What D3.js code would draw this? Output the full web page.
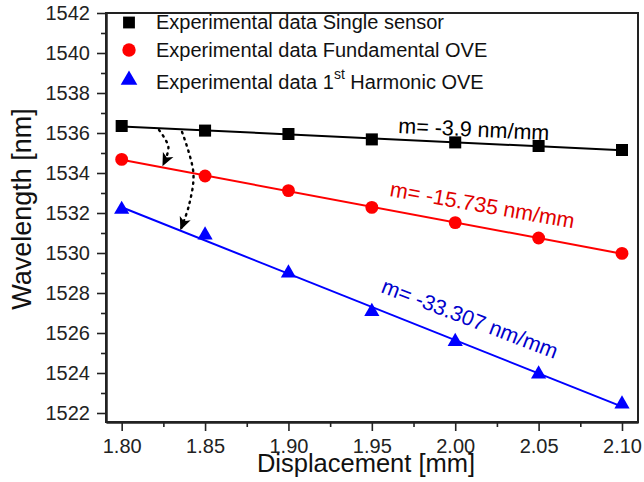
<!DOCTYPE html>
<html><head><meta charset="utf-8">
<script src="https://cdn.jsdelivr.net/npm/d3@7"></script>
<style>
html,body{margin:0;padding:0;background:#fff;}
svg text{font-family:"Liberation Sans",Arial,sans-serif;}
</style></head>
<body><svg id="c" width="644" height="482"></svg>
<script>
const displacement = [1.80, 1.85, 1.90, 1.95, 2.00, 2.05, 2.10];
const singleSensor = [1536.35, 1536.12, 1535.95, 1535.68, 1535.53, 1535.35, 1535.15];
const fundamentalOVE = [1534.68, 1533.85, 1533.12, 1532.28, 1531.52, 1530.75, 1529.98];
const harmonicOVE = [1532.18, 1530.90, 1529.00, 1527.07, 1525.57, 1523.95, 1522.45];
const xTicks = [1.80, 1.85, 1.90, 1.95, 2.00, 2.05, 2.10];
const yTicks = [1522, 1524, 1526, 1528, 1530, 1532, 1534, 1536, 1538, 1540, 1542];
const slopeLabels = ["m= -3.9 nm/mm", "m= -15.735 nm/mm", "m= -33.307 nm/mm"];
const legendLabels = ["Experimental data Single sensor", "Experimental data Fundamental OVE", "Experimental data 1"];
// annotation arrow paths in data units
const arrow1 = [[1.8224, 1536.15], [1.8280, 1535.3], [1.8248, 1534.4]];
const arrow2 = [[1.8362, 1536.05], [1.8430, 1534.0], [1.8404, 1532.4], [1.8355, 1531.2]];

const svg = d3.select("#c");
const L = 106, R = 638, T = 13, B = 422;
const x = d3.scaleLinear().domain([1.7906, 2.1096]).range([L, R]);
const y = d3.scaleLinear().domain([1521.55, 1542]).range([B, T]);

const defs = svg.append("defs");
defs.append("marker").attr("id", "ah").attr("viewBox", "0 0 10 10").attr("refX", 9).attr("refY", 5)
  .attr("markerWidth", 13).attr("markerHeight", 13).attr("markerUnits", "userSpaceOnUse").attr("orient", "auto")
  .append("path").attr("d", "M0,0.5 L10,5 L0,9.5 L2.5,5 Z").attr("fill", "#000");

// frame
svg.append("rect").attr("x", L).attr("y", T).attr("width", R - L).attr("height", B - T)
  .attr("fill", "none").attr("stroke", "#222").attr("stroke-width", 2);

// axes
const xMinor = d3.range(0, 6).map(i => 1.825 + i * 0.05);
const yMinor = d3.range(1523, 1542, 2);
svg.append("g").attr("transform", `translate(0,${B})`)
  .call(d3.axisBottom(x).tickValues(xTicks).tickFormat(d3.format(".2f")).tickSize(9).tickPadding(8).tickSizeOuter(0));
svg.append("g").attr("transform", `translate(0,${B})`)
  .call(d3.axisBottom(x).tickValues(xMinor).tickFormat("").tickSize(5).tickSizeOuter(0));
svg.append("g").attr("transform", `translate(${L},0)`)
  .call(d3.axisLeft(y).tickValues(yTicks).tickFormat(d3.format("d")).tickSize(9).tickPadding(7).tickSizeOuter(0));
svg.append("g").attr("transform", `translate(${L},0)`)
  .call(d3.axisLeft(y).tickValues(yMinor).tickFormat("").tickSize(5).tickSizeOuter(0));
svg.selectAll(".domain").attr("stroke", "#222").attr("stroke-width", 2);
svg.selectAll(".tick line").attr("stroke", "#222").attr("stroke-width", 1.6);
svg.selectAll(".tick text").attr("font-size", 20).attr("fill", "#222").attr("font-family", "Liberation Sans, Arial, sans-serif");

// axis titles
svg.append("text").attr("x", (L + R) / 2 - 6).attr("y", 472).attr("text-anchor", "middle")
  .attr("font-size", 25.5).attr("fill", "#111").text("Displacement [mm]");
svg.append("text").attr("transform", `translate(31,209) rotate(-90)`).attr("text-anchor", "middle")
  .attr("font-size", 27).attr("fill", "#111").text("Wavelength [nm]");

// series
const series = [
  {vals: singleSensor, color: "#000", shape: d3.symbolSquare, size: 145},
  {vals: fundamentalOVE, color: "#ff0000", shape: d3.symbolCircle, size: 130},
  {vals: harmonicOVE, color: "#0000ff", shape: d3.symbolTriangle, size: 100}
];
function fit(xs, ys) {
  const mx = d3.mean(xs), my = d3.mean(ys);
  const b = d3.sum(xs, (v, i) => (v - mx) * (ys[i] - my)) / d3.sum(xs, v => (v - mx) ** 2);
  return [b, my - b * mx];
}
series.forEach(s => {
  const [b, a] = fit(displacement, s.vals);
  const x0 = d3.min(displacement), x1 = d3.max(displacement);
  svg.append("line").attr("x1", x(x0)).attr("y1", y(a + b * x0)).attr("x2", x(x1)).attr("y2", y(a + b * x1))
    .attr("stroke", s.color).attr("stroke-width", 2);
});
series.forEach(s => {
  svg.append("g").selectAll("path").data(s.vals).join("path")
    .attr("transform", (d, i) => `translate(${x(displacement[i])},${y(d)})`)
    .attr("d", d3.symbol().type(s.shape).size(s.size)).attr("fill", s.color);
});

// dotted arrows
const curve = d3.line().x(d => x(d[0])).y(d => y(d[1])).curve(d3.curveCatmullRom);
[arrow1, arrow2].forEach(a => {
  svg.append("path").attr("d", curve(a)).attr("fill", "none").attr("stroke", "#000")
    .attr("stroke-width", 2.4).attr("stroke-dasharray", "1.5,5").attr("stroke-linecap", "round")
    .attr("marker-end", "url(#ah)");
});

// slope labels
const lab = [
  {t: slopeLabels[0], px: 398, py: 133, rot: 2.7, c: "#000"},
  {t: slopeLabels[1], px: 389, py: 196, rot: 10, c: "#e00000"},
  {t: slopeLabels[2], px: 380, py: 292, rot: 21, c: "#0000cc"}
];
lab.forEach(l => {
  svg.append("text").attr("transform", `translate(${l.px},${l.py}) rotate(${l.rot})`)
    .attr("font-size", 21.5).attr("fill", l.c).text(l.t);
});

// legend
const lg = svg.append("g");
const ly = [22.5, 50, 80];
series.forEach((s, i) => {
  lg.append("path").attr("transform", `translate(129,${ly[i]})`)
    .attr("d", d3.symbol().type(s.shape).size(i === 2 ? 120 : 140)).attr("fill", s.color);
  const t = lg.append("text").attr("x", 156).attr("y", [28.5, 57, 89][i]).attr("font-size", 20).attr("fill", "#111");
  t.append("tspan").text(legendLabels[i]);
  if (i === 2) {
    t.append("tspan").attr("dy", -10).attr("font-size", 14).text("st");
    t.append("tspan").attr("dy", 10).text(" Harmonic OVE");
  }
});
</script></body></html>
